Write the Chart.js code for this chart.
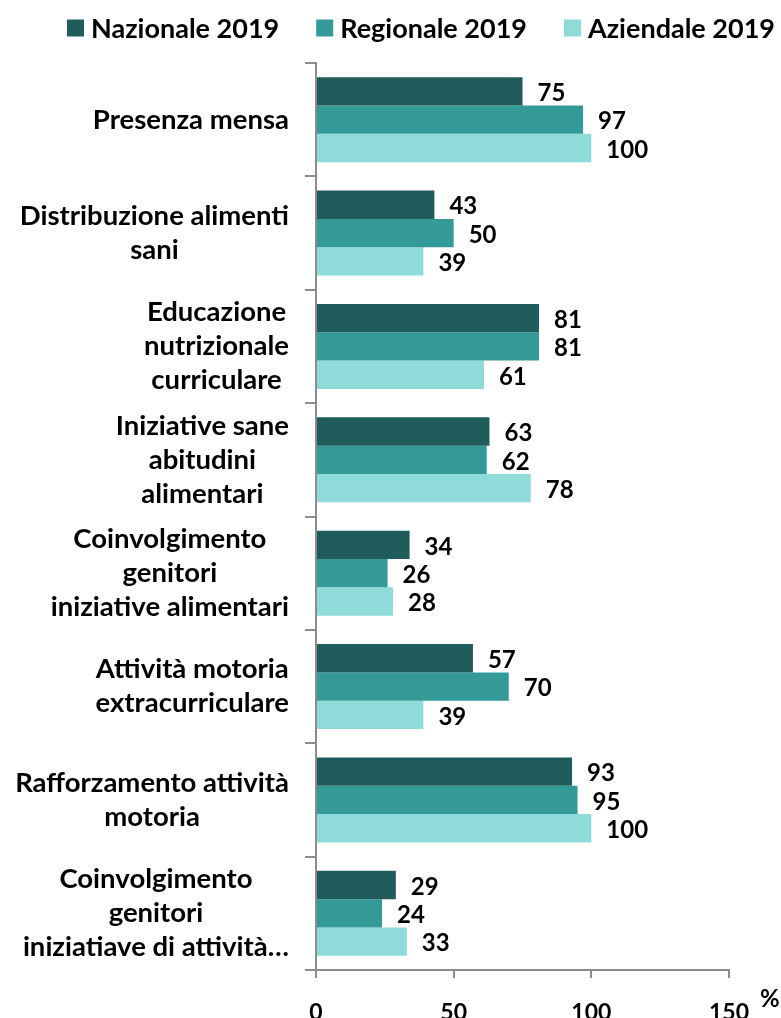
<!DOCTYPE html>
<html>
<head>
<meta charset="utf-8">
<script src="https://cdn.jsdelivr.net/npm/chart.js@4.4.1/dist/chart.umd.min.js"></script>
<style>
  html, body { margin: 0; padding: 0; background: #fff; }
  #wrap { width: 781px; height: 1018px; }
</style>
</head>
<body>
<div id="wrap"><canvas id="chart"></canvas></div>
<script>
// categorie (righe multiple come nell'originale)
const categories = [
    ['Presenza mensa'],
    ['Distribuzione alimenti', 'sani'],
    ['Educazione', 'nutrizionale', 'curriculare'],
    ['Iniziative sane', 'abitudini', 'alimentari'],
    ['Coinvolgimento', 'genitori', 'iniziative alimentari'],
    ['Attività motoria', 'extracurriculare'],
    ['Rafforzamento attività', 'motoria'],
    ['Coinvolgimento', 'genitori', 'iniziatiave di attività…']
];
const nazionale = [75, 43, 81, 63, 34, 57, 93, 29];
const regionale = [97, 50, 81, 62, 26, 70, 95, 24];
const aziendale = [100, 39, 61, 78, 28, 39, 100, 33];
const seriesNames = ['Nazionale 2019', 'Regionale 2019', 'Aziendale 2019'];
const xTicks = [0, 50, 100, 150];

const FONT = 'Lato, "Noto Sans", sans-serif';
const AXIS_GREY = '#8c8c8c';

// legenda, etichette categorie, valori e "%"
const extraText = {
    id: 'extraText',
    afterDatasetsDraw(chart) {
        const ctx = chart.ctx;
        const yScale = chart.scales.y;
        const xScale = chart.scales.x;
        ctx.save();
        ctx.fillStyle = '#000';

        // valori accanto alle barre
        ctx.font = 'bold 24px ' + FONT;
        ctx.textAlign = 'left';
        ctx.textBaseline = 'middle';
        chart.data.datasets.forEach((ds, i) => {
            chart.getDatasetMeta(i).data.forEach((bar, j) => {
                ctx.fillText(ds.data[j], bar.x + 15, bar.y + 2);
            });
        });

        // etichette asse y: blocco allineato a destra, righe centrate
        ctx.font = 'bold 27.5px ' + FONT;
        ctx.textAlign = 'center';
        const rightEdge = yScale.right - 27;
        categories.forEach((lines, j) => {
            const w = Math.max(...lines.map(l => ctx.measureText(l).width));
            const cx = rightEdge - w / 2;
            const cy = yScale.getPixelForValue(j);
            lines.forEach((l, k) => {
                ctx.fillText(l, cx, cy + (k - (lines.length - 1) / 2) * 34);
            });
        });

        // simbolo %
        ctx.font = 'bold 24px ' + FONT;
        ctx.textAlign = 'left';
        ctx.fillText('%', xScale.right + 31, xScale.top + 29);

        // legenda
        ctx.font = 'bold 27px ' + FONT;
        const items = chart.data.datasets.map(ds => ({
            text: ds.label, color: ds.backgroundColor, w: 17 + 7 + ctx.measureText(ds.label).width
        }));
        const gap = 37;
        const total = items.reduce((s, it) => s + it.w, 0) + gap * (items.length - 1);
        let x = 421 - total / 2;
        const y = 28;
        items.forEach(it => {
            ctx.fillStyle = it.color;
            ctx.fillRect(x, y - 8.5, 17, 17);
            ctx.fillStyle = '#000';
            ctx.fillText(it.text, x + 24, y + 1);
            x += it.w + gap;
        });
        ctx.restore();
    }
};

const ctx = document.getElementById('chart').getContext('2d');
new Chart(ctx, {
    type: 'bar',
    data: {
        labels: categories,
        datasets: [{
            label: seriesNames[0],
            data: nazionale,
            backgroundColor: '#1f5c5b'
        }, {
            label: seriesNames[1],
            data: regionale,
            backgroundColor: '#339a98'
        }, {
            label: seriesNames[2],
            data: aziendale,
            backgroundColor: '#8fdbd9'
        }]
    },
    options: {
        indexAxis: 'y',
        responsive: true,
        maintainAspectRatio: false,
        animation: false,
        layout: { padding: { top: 63, right: 52, left: 0, bottom: 0 } },
        datasets: { bar: { categoryPercentage: 0.75, barPercentage: 1.0 } },
        plugins: {
            legend: { display: false },
            tooltip: { enabled: false }
        },
        scales: {
            x: {
                min: 0,
                max: 150,
                afterBuildTicks: scale => { scale.ticks = xTicks.map(v => ({ value: v })); },
                afterFit: scale => { scale.height = 48; },
                border: { color: AXIS_GREY, width: 2 },
                grid: { drawOnChartArea: false, color: AXIS_GREY, lineWidth: 2, tickLength: 8 },
                ticks: {
                    color: '#000',
                    padding: 21,
                    maxRotation: 0,
                    font: { family: FONT, size: 23, weight: 'bold' }
                }
            },
            y: {
                afterFit: scale => { scale.width = 316; },
                border: { color: AXIS_GREY, width: 2 },
                grid: { drawOnChartArea: false, color: AXIS_GREY, lineWidth: 2, tickLength: 11 },
                ticks: { display: false }
            }
        }
    },
    plugins: [extraText]
});
</script>
</body>
</html>
